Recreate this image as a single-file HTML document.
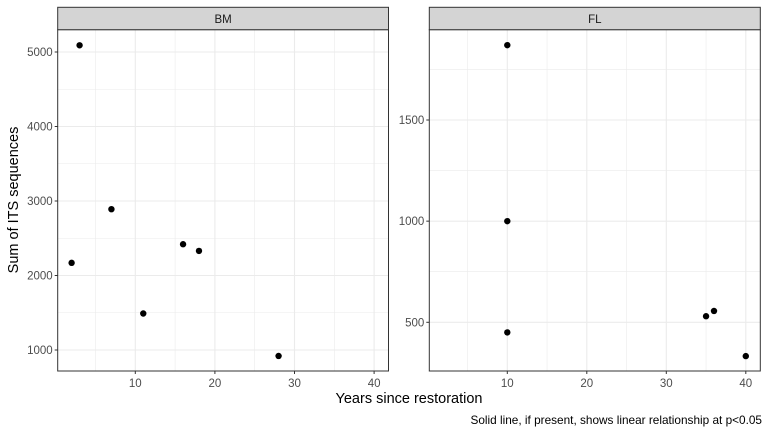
<!DOCTYPE html>
<html><head><meta charset="utf-8"><style>
body{margin:0;background:#fff;}
svg{display:block;font-family:"Liberation Sans",Arial,sans-serif;}
</style></head><body>
<svg id="chart" width="768" height="432"></svg>
<script>
const bmYears=[2,3,7,11,16,18,28];
const bmValues=[2170,5090,2890,1490,2420,2330,920];
const flYears=[10,10,10,35,36,40];
const flValues=[1870,1000,450,530,556,333];
const xTicks=[10,20,30,40];
const bmYTicks=[1000,2000,3000,4000,5000];
const flYTicks=[500,1000,1500];
const NS="http://www.w3.org/2000/svg";
const svg=document.getElementById('chart');
function mk(t,a,p){const e=document.createElementNS(NS,t);for(const k in a)e.setAttribute(k,a[k]);(p||svg).appendChild(e);return e;}
function panel(name,x0,x1,xs,ys,yTicks,yMinor,xv,yv,label){
  const top=29.7,bot=371;
  const g=mk('g',{});
  
  
  mk('rect',{x:x0,y:top,width:x1-x0,height:bot-top,fill:'#fff'},g);
  [5,15,25,35].forEach(v=>mk('line',{x1:xs(v),x2:xs(v),y1:top,y2:bot,stroke:'#ebebeb','stroke-width':0.6},g));
  yMinor.forEach(v=>mk('line',{x1:x0,x2:x1,y1:ys(v),y2:ys(v),stroke:'#ebebeb','stroke-width':0.6},g));
  xTicks.forEach(v=>{
    mk('line',{x1:xs(v),x2:xs(v),y1:top,y2:bot,stroke:'#ebebeb','stroke-width':1.1},g);
    mk('line',{x1:xs(v),x2:xs(v),y1:bot,y2:bot+3,stroke:'#333','stroke-width':1},g);
    const t=mk('text',{x:xs(v),y:bot+16,'text-anchor':'middle','font-size':11.5,fill:'#4d4d4d'},g);t.textContent=v;
    
    
  });
  yTicks.forEach(v=>{
    mk('line',{x1:x0,x2:x1,y1:ys(v),y2:ys(v),stroke:'#ebebeb','stroke-width':1.1},g);
    mk('line',{x1:x0-3,x2:x0,y1:ys(v),y2:ys(v),stroke:'#333','stroke-width':1},g);
    const t=mk('text',{x:x0-5,y:ys(v)+4,'text-anchor':'end','font-size':11.5,fill:'#4d4d4d'},g);t.textContent=v;
    
    
  });
  xv.forEach((x,i)=>{
    const c=mk('circle',{cx:xs(x),cy:ys(yv[i]),r:3.2,fill:'#000'},g);
    
    
  });
  mk('rect',{x:x0,y:top,width:x1-x0,height:bot-top,fill:'none',stroke:'#333','stroke-width':1},g);
  const s=mk('rect',{x:x0,y:7.3,width:x1-x0,height:top-7.3,fill:'#d4d4d4',stroke:'#333','stroke-width':1},g);
  
  
  const st=mk('text',{x:(x0+x1)/2,y:23,'text-anchor':'middle','font-size':11.5,fill:'#1a1a1a'},g);st.textContent=label;
  
  
}
const xsL=v=>55.7+v*7.96;
const ysL=v=>350-(v-1000)*0.0745;
panel('bm',57.7,388.5,xsL,ysL,bmYTicks,[1500,2500,3500,4500],bmYears,bmValues,'BM');
const xsR=v=>507.3+(v-10)*7.95;
const ysR=v=>322.3-(v-500)*0.2023;
panel('fl',429.3,760.3,xsR,ysR,flYTicks,[750,1250,1750],flYears,flValues,'FL');
let t=mk('text',{x:409,y:403,'text-anchor':'middle','font-size':14.5,fill:'#000'});t.textContent='Years since restoration';


t=mk('text',{x:0,y:0,'text-anchor':'middle','font-size':14.5,fill:'#000',transform:'translate(18,200) rotate(-90)'});t.textContent='Sum of ITS sequences';


t=mk('text',{x:762,y:424,'text-anchor':'end','font-size':11.8,fill:'#000'});t.textContent='Solid line, if present, shows linear relationship at p<0.05';


</script>
</body></html>
